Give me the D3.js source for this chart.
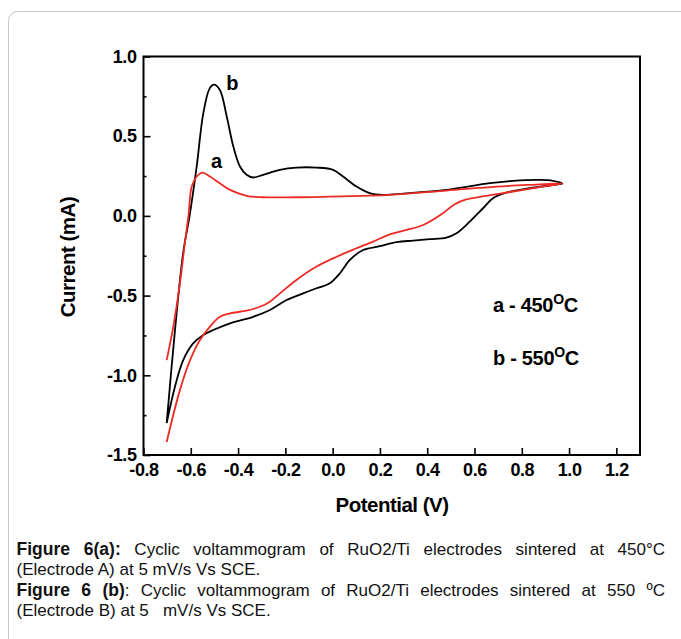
<!DOCTYPE html>
<html>
<head>
<meta charset="utf-8">
<script src="https://cdnjs.cloudflare.com/ajax/libs/d3/7.8.5/d3.min.js"></script>
<style>
  body { margin: 0; background: #fff; }
  text { font-family: "Liberation Sans", Arial, sans-serif; }
</style>
</head>
<body>
<div id="chart"></div>
<script>
// ************ data ***********************************
// curve b (550 C), anodic sweep then cathodic sweep
const bPotential = [-0.702, -0.667, -0.632, -0.605, -0.575, -0.547, -0.52, -0.502, -0.477, -0.448, -0.42, -0.392, -0.364, -0.336, -0.294, -0.223, -0.153, -0.068, 0.002, 0.044, 0.101, 0.157, 0.214, 0.3, 0.481, 0.664, 0.763, 0.876, 0.932, 0.972,
  0.96, 0.834, 0.735, 0.678, 0.636, 0.58, 0.524, 0.481, 0.411, 0.34, 0.27, 0.2, 0.129, 0.073, 0.031, -0.012, -0.068, -0.125, -0.195, -0.265, -0.336, -0.434, -0.505, -0.547, -0.59, -0.632, -0.667, -0.702]
const bCurrent = [-1.30, -0.72, -0.23, 0.0, 0.31, 0.645, 0.80, 0.823, 0.79, 0.624, 0.435, 0.31, 0.258, 0.241, 0.258, 0.289, 0.303, 0.303, 0.289, 0.247, 0.184, 0.143, 0.132, 0.14, 0.163, 0.205, 0.22, 0.226, 0.22, 0.203,
  0.199, 0.174, 0.146, 0.111, 0.048, -0.036, -0.109, -0.136, -0.146, -0.155, -0.165, -0.19, -0.214, -0.276, -0.36, -0.423, -0.454, -0.486, -0.528, -0.59, -0.633, -0.674, -0.716, -0.747, -0.80, -0.905, -1.072, -1.30]

// curve a (450 C)
const aPotential = [-0.702, -0.674, -0.646, -0.625, -0.61, -0.596, -0.575, -0.55, -0.519, -0.477, -0.434, -0.364, -0.294, -0.153, -0.012, 0.129, 0.242, 0.481, 0.693, 0.834, 0.972,
  0.904, 0.763, 0.64, 0.565, 0.515, 0.46, 0.383, 0.312, 0.242, 0.171, 0.101, 0.017, -0.068, -0.153, -0.223, -0.265, -0.308, -0.364, -0.434, -0.477, -0.519, -0.561, -0.603, -0.646, -0.702]
const aCurrent = [-0.905, -0.695, -0.423, -0.17, 0.0, 0.184, 0.247, 0.272, 0.247, 0.205, 0.163, 0.126, 0.117, 0.117, 0.121, 0.126, 0.132, 0.159, 0.184, 0.195, 0.203,
  0.188, 0.153, 0.124, 0.103, 0.072, 0.01, -0.057, -0.088, -0.116, -0.161, -0.203, -0.256, -0.318, -0.402, -0.486, -0.538, -0.57, -0.595, -0.611, -0.633, -0.695, -0.779, -0.905, -1.093, -1.418]

const xTicks = [-0.8, -0.6, -0.4, -0.2, 0.0, 0.2, 0.4, 0.6, 0.8, 1.0, 1.2]
const yTicks = [-1.5, -1.0, -0.5, 0.0, 0.5, 1.0]
const yMinorTicks = [-1.25, -0.75, -0.25, 0.25, 0.75]

const captionLines = [
  { bold: "Figure 6(a):", rest: " Cyclic voltammogram of RuO2/Ti electrodes sintered at 450°C", justify: true },
  { bold: "", rest: "(Electrode A) at 5 mV/s Vs SCE.", justify: false },
  { bold: "Figure 6 (b)", rest: ": Cyclic voltammogram of RuO2/Ti electrodes sintered at 550 ºC", justify: true },
  { bold: "", rest: "(Electrode B) at 5   mV/s Vs SCE.", justify: false }
]

// ************ layout ***************
const W = 681
const H = 639
const plot = { left: 143.5, right: 640, top: 56.5, bottom: 455 }

const x = d3.scaleLinear().domain([-0.8, 1.3]).range([plot.left, plot.right])
const y = d3.scaleLinear().domain([-1.5, 1.0]).range([plot.bottom, plot.top])

const svg = d3.select("#chart")
  .append("svg")
  .attr("width", W)
  .attr("height", H)

// outer rounded panel
svg.append("rect")
  .attr("x", 8.5)
  .attr("y", 11.5)
  .attr("width", W + 20)
  .attr("height", H + 20)
  .attr("rx", 9)
  .attr("fill", "none")
  .attr("stroke", "#c8c8c8")
  .attr("stroke-width", 1)

// ************ axes ***************
const fmt = d => d.toFixed(1)

const xAxis = d3.axisBottom(x)
  .tickValues(xTicks)
  .tickSize(-7)
  .tickPadding(8)
  .tickFormat(fmt)

const yAxis = d3.axisLeft(y)
  .tickValues(yTicks)
  .tickSize(-7)
  .tickPadding(7)
  .tickFormat(fmt)

const gx = svg.append("g")
  .attr("transform", "translate(0," + plot.bottom + ")")
  .call(xAxis)

const gy = svg.append("g")
  .attr("transform", "translate(" + plot.left + ",0)")
  .call(yAxis)

// minor ticks on y
svg.append("g")
  .attr("transform", "translate(" + plot.left + ",0)")
  .call(d3.axisLeft(y).tickValues(yMinorTicks).tickSize(-3).tickFormat(""))

svg.selectAll(".domain").remove()
svg.selectAll(".tick line").attr("stroke", "#000").attr("stroke-width", 1.6)
svg.selectAll(".tick text")
  .attr("fill", "#000")
  .style("font-size", "18px")
  .style("font-weight", "bold")
  .style("letter-spacing", "-0.4px")

// frame
svg.append("rect")
  .attr("x", plot.left)
  .attr("y", plot.top)
  .attr("width", plot.right - plot.left)
  .attr("height", plot.bottom - plot.top)
  .attr("fill", "none")
  .attr("stroke", "#000")
  .attr("stroke-width", 2)

// axis titles
svg.append("text")
  .attr("x", 392)
  .attr("y", 512)
  .attr("text-anchor", "middle")
  .style("font-size", "20.5px")
  .style("font-weight", "bold")
  .style("letter-spacing", "-0.5px")
  .text("Potential (V)")

svg.append("text")
  .attr("transform", "translate(75,257) rotate(-90)")
  .attr("text-anchor", "middle")
  .style("font-size", "20.5px")
  .style("font-weight", "bold")
  .style("letter-spacing", "-0.5px")
  .text("Current (mA)")

// ************ curves ***************
const line = d3.line()
  .x(d => x(d[0]))
  .y(d => y(d[1]))
  .curve(d3.curveCatmullRom.alpha(0.5))

const series = [
  { pts: d3.zip(bPotential, bCurrent), color: "#000" },
  { pts: d3.zip(aPotential, aCurrent), color: "#ec2b24" }
]

svg.selectAll(".cv")
  .data(series)
  .enter()
  .append("path")
  .attr("class", "cv")
  .attr("d", d => line(d.pts))
  .attr("fill", "none")
  .attr("stroke", d => d.color)
  .attr("stroke-width", 1.8)
  .attr("stroke-linejoin", "round")

// curve letters
svg.append("text")
  .attr("x", x(-0.45))
  .attr("y", y(0.79))
  .style("font-size", "20px")
  .style("font-weight", "bold")
  .text("b")

svg.append("text")
  .attr("x", x(-0.515))
  .attr("y", y(0.30))
  .style("font-size", "20px")
  .style("font-weight", "bold")
  .text("a")

// ************ legend ***************
const legendItems = [
  { label: "a - 450", v: -0.6 },
  { label: "b - 550", v: -0.935 }
]

const leg = svg.selectAll(".legend")
  .data(legendItems)
  .enter()
  .append("text")
  .attr("class", "legend")
  .attr("x", 493)
  .attr("y", d => y(d.v))
  .style("font-size", "20px")
  .style("font-weight", "bold")
  .style("letter-spacing", "-0.3px")

leg.append("tspan").text(d => d.label)
leg.append("tspan").attr("dy", -8).style("font-size", "14px").text("O")
leg.append("tspan").attr("dy", 8).text("C")

// ************ caption ***************
const cap = svg.selectAll(".caption")
  .data(captionLines)
  .enter()
  .append("text")
  .attr("class", "caption")
  .attr("x", 16.5)
  .attr("y", (d, i) => 555 + i * 20.3)
  .attr("xml:space", "preserve")
  .style("font-size", "17px")
  .style("white-space", "pre")
  .attr("fill", "#111")

cap.append("tspan")
  .style("font-weight", "bold")
  .style("font-size", "17.5px")
  .text(d => d.bold)
cap.append("tspan").text(d => d.rest)

// spread words on the justified lines
cap.each(function(d) {
  if (!d.justify) return
  const natural = this.getComputedTextLength()
  const gaps = (d.bold + d.rest).split(" ").length - 1
  d3.select(this).style("word-spacing", ((665 - 16.5 - natural) / gaps) + "px")
})
</script>
</body>
</html>
